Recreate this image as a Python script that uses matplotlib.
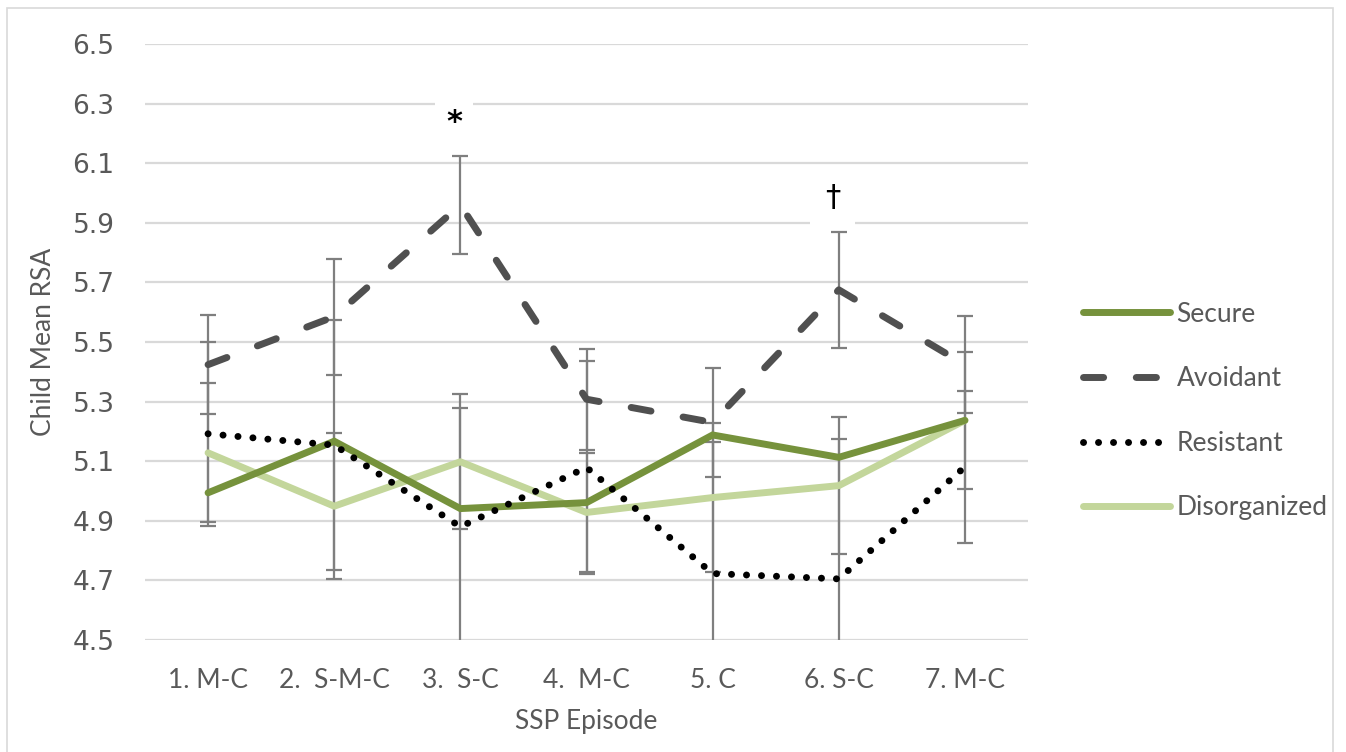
import matplotlib
matplotlib.use("Agg")
import matplotlib.pyplot as plt
from matplotlib.patches import Rectangle
import numpy as np

episodes = ["1. M-C", "2.  S-M-C", "3.  S-C", "4.  M-C", "5. C", "6. S-C", "7. M-C"]
secure = [4.994, 5.167, 4.941, 4.961, 5.188, 5.113, 5.237]
avoidant = [5.424, 5.585, 5.960, 5.308, 5.230, 5.675, 5.424]
avoidant_err = [0.165, 0.195, 0.165, 0.170, 0.184, 0.195, 0.162]
resistant = [5.192, 5.154, 4.880, 5.079, 4.723, 4.705, 5.081]
resistant_err = [0.308, 0.420, 0.400, 0.356, 0.443, 0.470, 0.255]
disorganized = [5.128, 4.949, 5.098, 4.928, 4.978, 5.018, 5.237]
disorganized_err = [0.233, 0.244, 0.226, 0.200, 0.250, 0.230, 0.230]
yticks = [4.5, 4.7, 4.9, 5.1, 5.3, 5.5, 5.7, 5.9, 6.1, 6.3, 6.5]
marks = [("*", 3, 6.235, 8), ("\u2020", 6, 5.985, 11)]

W, H = 1346, 752
fig = plt.figure(figsize=(W / 100, H / 100), dpi=100)
fig.patch.set_facecolor("white")
fig.add_artist(Rectangle((7 / W, -0.01), (1333 - 7) / W, 1.01 - 8 / H, transform=fig.transFigure,
                         fill=False, edgecolor="#D9D9D9", linewidth=1.2))

ax = fig.add_axes([145 / W, 1 - 640 / H, (1028 - 145) / W, (640 - 44) / H])
x = np.arange(1, len(episodes) + 1)

ax.set_xlim(0.5, len(episodes) + 0.5)
ax.set_ylim(4.5, 6.5)
ax.set_yticks(yticks)
ax.set_yticklabels([f"{v:.1f}" for v in yticks], fontsize=19, color="#595959",
                   family="DejaVu Sans")
ax.set_xticks(x)
ax.set_xticklabels(episodes, fontsize=19, color="#595959", family="Lato")
ax.tick_params(axis="both", length=0)
ax.tick_params(axis="y", pad=22)
ax.tick_params(axis="x", pad=20)
for s in ax.spines.values():
    s.set_visible(False)
ax.grid(axis="y", color="#D9D9D9", linewidth=1.6, zorder=0)
ax.set_axisbelow(True)

ax.set_ylabel("Child Mean RSA", fontsize=19, color="#595959", family="Lato", labelpad=12)
ax.set_xlabel("SSP Episode", fontsize=19, color="#595959", family="Lato", labelpad=12)

err_color = "#7F7F7F"
for vals, err in [(avoidant, avoidant_err), (resistant, resistant_err),
                  (disorganized, disorganized_err)]:
    ax.errorbar(x, vals, yerr=err, fmt="none", ecolor=err_color, elinewidth=1.6,
                capsize=5.5, capthick=1.6, zorder=2)

lw = 5.0
l1, = ax.plot(x, secure, color="#76923C", lw=lw, solid_joinstyle="miter",
              solid_capstyle="round", zorder=4, label="Secure")
l2, = ax.plot(x, avoidant, color="#505050", lw=lw, dash_capstyle="round",
              zorder=4, label="Avoidant")
l2.set_dashes([2.9, 4.7])
l3, = ax.plot(x, resistant, color="black", lw=lw, dash_capstyle="round",
              zorder=5, label="Resistant")
l3.set_dashes([0.01, 2.15])
l4, = ax.plot(x, disorganized, color="#C3D69B", lw=lw, solid_capstyle="round",
              zorder=3, label="Disorganized")

for sym, xi, yi, pad in marks:
    ax.text(xi - 0.05, yi, sym, fontsize=22, ha="center", va="center", color="black",
            family="DejaVu Sans", fontweight="bold" if sym == "*" else "normal", zorder=6,
            bbox=dict(facecolor="white", edgecolor="none", pad=pad))

leg = fig.legend(handles=[l1, l2, l3, l4], loc="center left",
                 bbox_to_anchor=(1059 / W, 1 - 411 / H), frameon=False,
                 prop={"family": "Lato", "size": 19}, handlelength=3.3,
                 handletextpad=0.25, labelspacing=1.5)
for t in leg.get_texts():
    t.set_color("#595959")

fig.savefig("out.png", dpi=100)
